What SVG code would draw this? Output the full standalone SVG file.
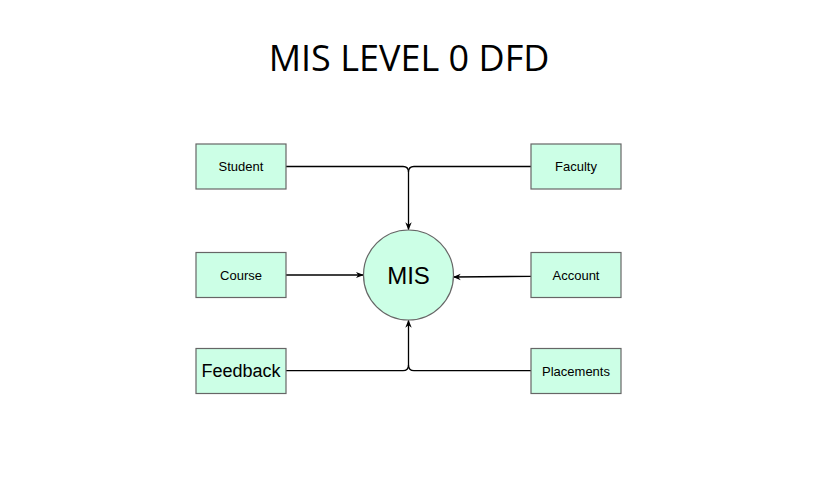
<svg xmlns="http://www.w3.org/2000/svg" width="816" height="479" viewBox="0 0 816 479">
<defs>
<style>
.box{fill:#ccffe6;stroke:#666666;stroke-width:1.2}
.lbl{font-family:"Liberation Sans",Arial,sans-serif;font-size:13px;fill:#000;text-anchor:middle;dominant-baseline:central}
.edge{fill:none;stroke:#000;stroke-width:1.3}
</style>
<marker id="arr" viewBox="0 0 10 10" refX="9" refY="5" markerWidth="8" markerHeight="8" orient="auto" markerUnits="userSpaceOnUse">
<path d="M0,1 L10,5 L0,9 L3,5 Z" fill="#000"/>
</marker>
</defs>
<rect width="816" height="479" fill="#fff"/>
<text x="409" y="71" font-family="'Open Sans','Noto Sans',sans-serif" font-size="36" text-anchor="middle" fill="#000">MIS LEVEL 0 DFD</text>
<g id="edges">
<path class="edge" d="M286,166.5 H403 Q408.5,166.5 408.5,172 V229.5" marker-end="url(#arr)"/>
<path class="edge" d="M531,166.5 H414 Q408.5,166.5 408.5,172"/>
<path class="edge" d="M286,275 H363" marker-end="url(#arr)"/>
<path class="edge" d="M531,276.3 L453.5,277" marker-end="url(#arr)"/>
<path class="edge" d="M286,370.7 H403 Q408.5,370.7 408.5,365 V320.5" marker-end="url(#arr)"/>
<path class="edge" d="M531,370.7 H414 Q408.5,370.7 408.5,365"/>
</g>
<g id="mis">
<circle class="box" cx="408.5" cy="275" r="45"/>
<text class="lbl" x="408.5" y="275" style="font-size:24px">MIS</text>
</g>
<g id="student"><rect class="box" x="196" y="144" width="90" height="45"/><text class="lbl" x="241" y="166.5">Student</text></g>
<g id="faculty"><rect class="box" x="531" y="144" width="90" height="45"/><text class="lbl" x="576" y="166.5">Faculty</text></g>
<g id="course"><rect class="box" x="196" y="252.5" width="90" height="45"/><text class="lbl" x="241" y="275">Course</text></g>
<g id="account"><rect class="box" x="531" y="252.5" width="90" height="45"/><text class="lbl" x="576" y="275">Account</text></g>
<g id="feedback"><rect class="box" x="196" y="348.5" width="90" height="45"/><text class="lbl" x="241" y="371" style="font-size:18px">Feedback</text></g>
<g id="placements"><rect class="box" x="531" y="348.5" width="90" height="45"/><text class="lbl" x="576" y="371">Placements</text></g>
</svg>
